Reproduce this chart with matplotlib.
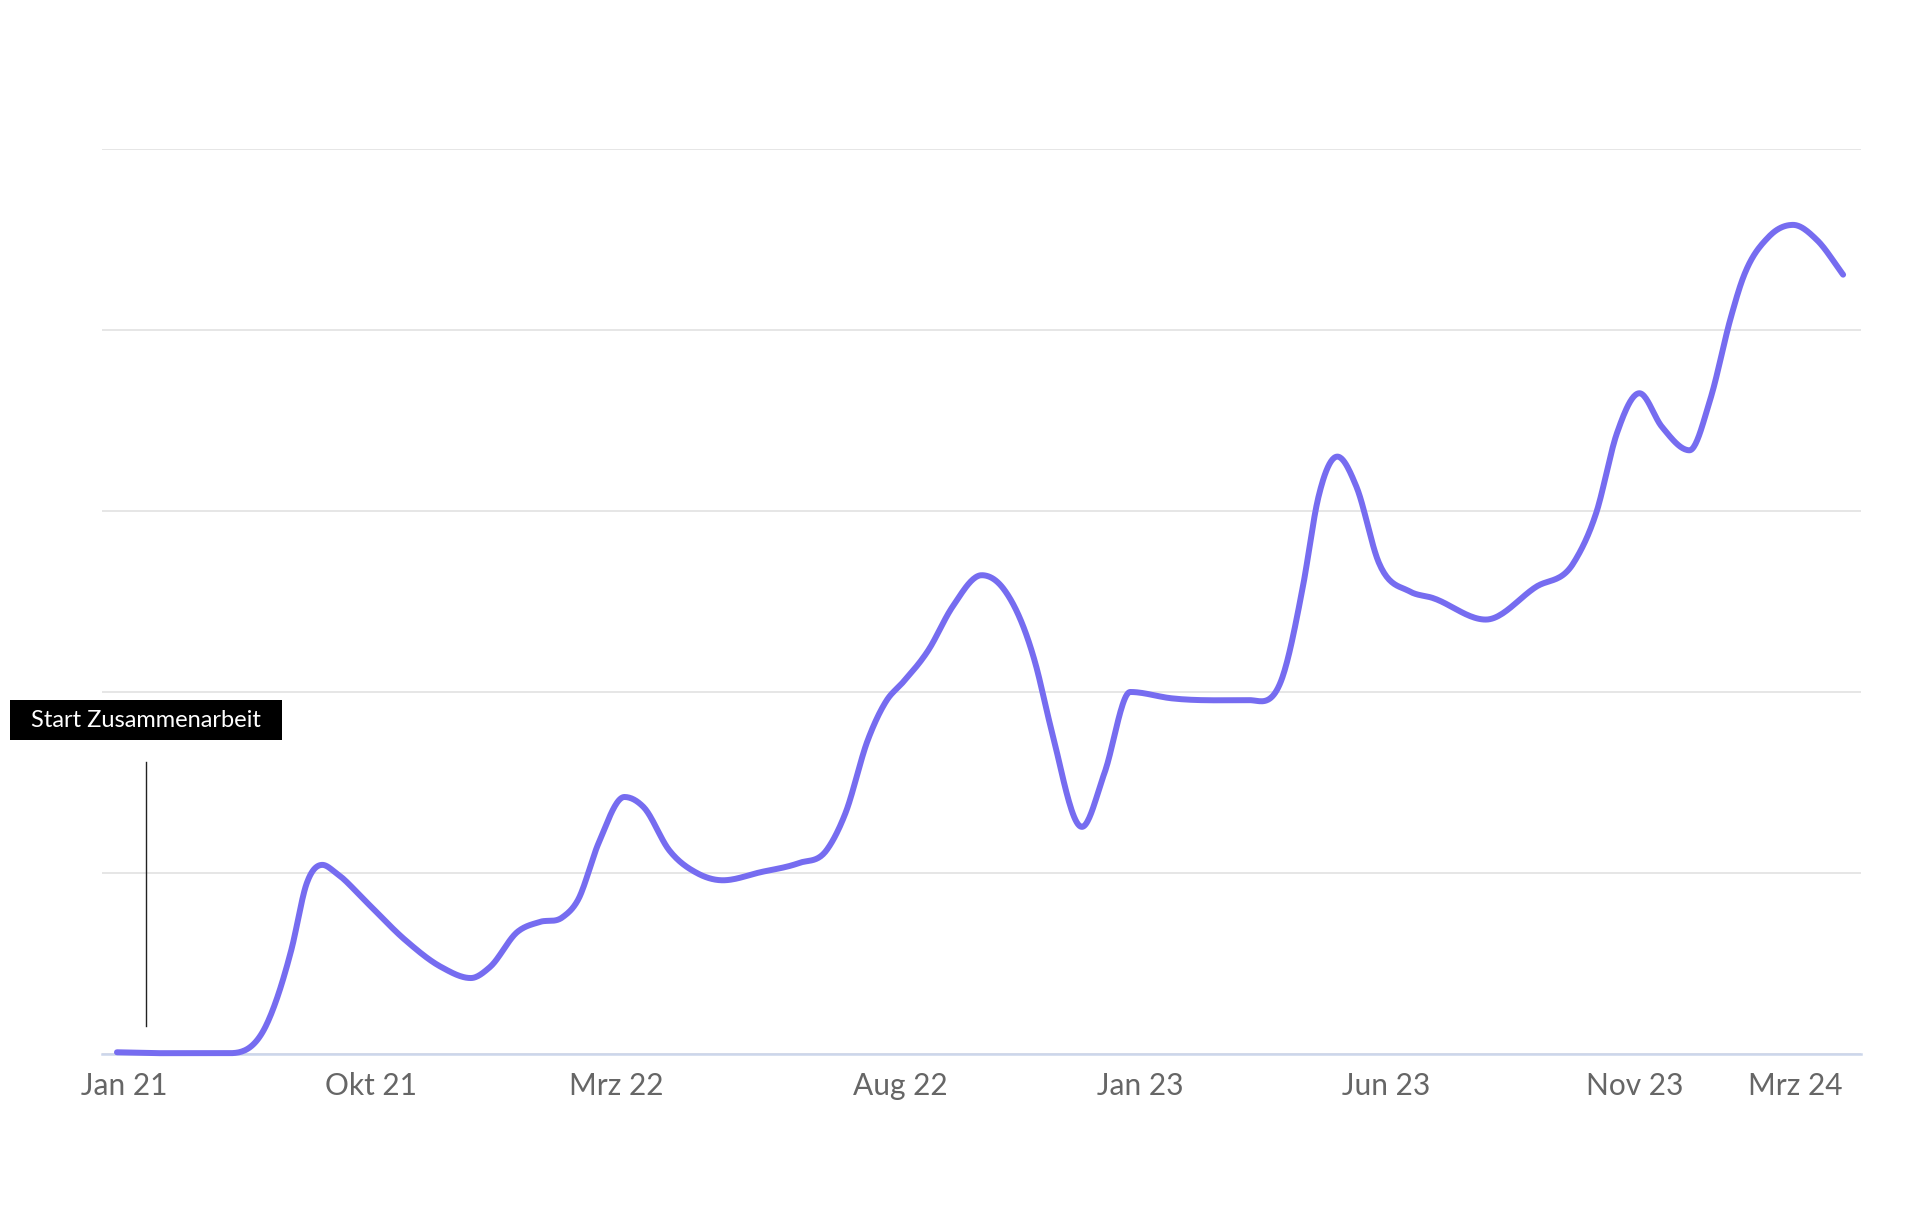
import matplotlib
matplotlib.use('Agg')
import matplotlib.pyplot as plt
from matplotlib.patches import Rectangle
import numpy as np

plt.rcParams['font.family'] = ['Lato', 'DejaVu Sans']

# Zeitachse als Index 0..100 (Verlauf von Jan 21 bis Apr 24), Werte 0..100
t = [0.0, 2.3, 6.5, 8.7, 10.1, 11.0, 11.9, 12.7, 14.5, 16.7, 18.8, 20.5, 21.6,
     23.2, 24.5, 25.8, 26.7, 27.9, 29.4, 30.5, 32.0, 33.6, 35.1, 37.3, 39.5,
     41.1, 42.2, 43.5, 44.6, 45.5, 47.0, 48.4, 50.1, 51.4, 53.2, 54.1, 55.9,
     57.2, 58.7, 61.1, 65.6, 67.6, 68.7, 69.6, 70.7, 71.8, 73.1, 74.9, 76.2,
     79.3, 82.2, 84.4, 85.7, 86.9, 88.2, 89.5, 91.1, 92.3, 93.5, 94.1, 95.7,
     97.1, 98.5, 100.0]
werte = [0.2, 0.1, 0.1, 3.4, 11.5, 18.9, 20.9, 20.0, 16.7, 12.6, 9.6, 8.4, 9.6,
         13.5, 14.6, 15.1, 17.0, 23.3, 28.4, 27.3, 22.5, 20.0, 19.2, 20.1, 21.1,
         22.5, 26.6, 34.7, 39.1, 41.0, 44.6, 49.4, 52.9, 51.3, 43.2, 36.1, 25.1,
         31.0, 40.0, 39.3, 39.1, 42.1, 51.6, 61.5, 66.0, 62.7, 54.3, 51.1, 50.4,
         48.0, 51.6, 54.3, 59.8, 68.6, 73.0, 69.3, 66.7, 72.3, 81.4, 85.2, 90.3,
         91.6, 89.9, 86.1]

tick_pos = [0.4, 14.7, 28.9, 45.4, 59.3, 73.5, 87.9, 97.2]
tick_labels = ['Jan 21', 'Okt 21', 'Mrz 22', 'Aug 22', 'Jan 23', 'Jun 23', 'Nov 23', 'Mrz 24']

start_t = 1.7
label_text = 'Start Zusammenarbeit'


def smooth_line(x, y, n=24):
    # kubische Hermite-Kurve: Steigung aus Nachbarpunkten, flach an Hoch-/Tiefpunkten
    x = np.asarray(x, float)
    y = np.asarray(y, float)
    h = np.diff(x)
    d = np.diff(y) / h
    m = np.zeros_like(y)
    for k in range(1, len(y) - 1):
        if d[k - 1] * d[k] > 0:
            m[k] = (d[k - 1] * h[k] + d[k] * h[k - 1]) / (h[k] + h[k - 1])
    m[0] = d[0]
    m[-1] = d[-1]
    xs, ys = [], []
    for i in range(len(x) - 1):
        s = np.linspace(0, 1, n, endpoint=False)
        h00 = 2 * s**3 - 3 * s**2 + 1
        h10 = s**3 - 2 * s**2 + s
        h01 = -2 * s**3 + 3 * s**2
        h11 = s**3 - s**2
        xs.append(x[i] + s * h[i])
        ys.append(h00 * y[i] + h10 * h[i] * m[i] + h01 * y[i + 1] + h11 * h[i] * m[i + 1])
    xs.append([x[-1]])
    ys.append([y[-1]])
    return np.concatenate(xs), np.concatenate(ys)


fig = plt.figure(figsize=(19.2, 12.2), dpi=100)
ax = fig.add_axes([0.0531, 0.136, 0.9162, 0.742])

xs, ys = smooth_line(t, werte)
ax.plot(xs, ys, color='#766cf0', lw=4.3, solid_capstyle='round', solid_joinstyle='round',
        clip_on=False, zorder=3)

ax.set_xlim(-0.87, 101.04)
ax.set_ylim(0, 100)
ax.set_yticks([0, 20, 40, 60, 80, 100])
ax.set_yticklabels([])
ax.yaxis.grid(True, color='#e6e6e6', lw=1.4)
ax.set_axisbelow(True)
ax.tick_params(axis='y', length=0)

ax.set_xticks(tick_pos)
ax.set_xticklabels(tick_labels, fontsize=21.5, color='#666666')
ax.tick_params(axis='x', length=0, pad=13)

for s in ['top', 'right', 'left']:
    ax.spines[s].set_visible(False)
ax.spines['bottom'].set_color('#ccd6eb')
ax.spines['bottom'].set_linewidth(1.8)

# Markierung Start Zusammenarbeit
ax.plot([start_t, start_t], [3.1, 32.3], color='#222222', lw=1.0, zorder=2)
fig.patches.append(Rectangle((0.0052, 0.3934), 0.1417, 0.0328, transform=fig.transFigure,
                             facecolor='black', edgecolor='none'))
fig.text(0.076, 0.4098, label_text, color='white', fontsize=17, ha='center', va='center')

fig.savefig('out.png', dpi=100, facecolor='white')
